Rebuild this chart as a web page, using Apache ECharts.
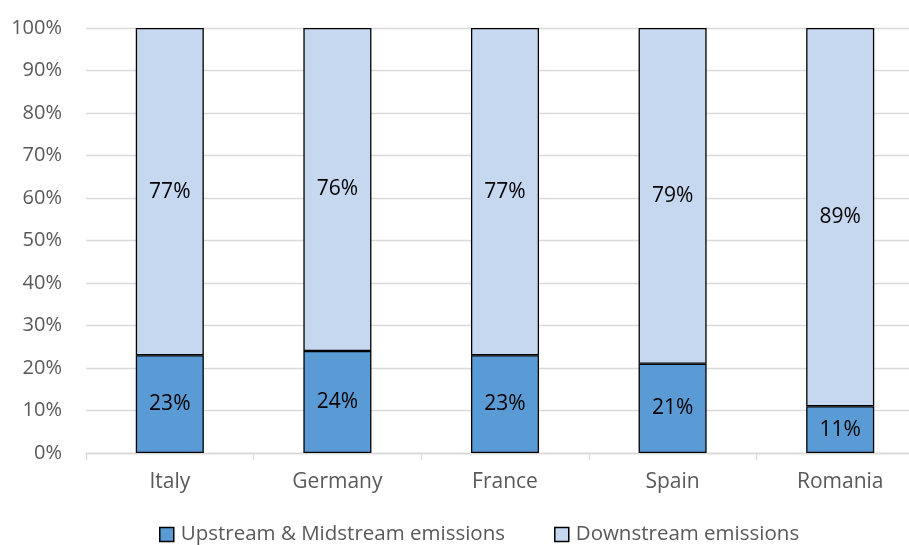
<!DOCTYPE html>
<html>
<head>
<meta charset="utf-8">
<script src="https://cdn.jsdelivr.net/npm/echarts@6/dist/echarts.min.js"></script>
<style>
  html, body { margin: 0; padding: 0; background: #fff; overflow: hidden; }
  #frame { width: 909px; height: 545px; overflow: hidden; }
  /* the category band runs a little past the right edge of the frame */
  #chart { width: 924px; height: 545px; }
</style>
</head>
<body>
<div id="frame"><div id="chart"></div></div>
<script>
// Share of emissions by stage, per country (percent)
const countries = ['Italy', 'Germany', 'France', 'Spain', 'Romania'];
const upstreamMidstream = [23, 24, 23, 21, 11];
const downstream = [77, 76, 77, 79, 89];
const yTicks = [0, 10, 20, 30, 40, 50, 60, 70, 80, 90, 100];

const FONT = '"Open Sans", Lato, sans-serif';

const chart = echarts.init(document.getElementById('chart'));

function barSeries(name, values, color) {
  return {
    name: name,
    type: 'bar',
    stack: 'total',
    data: values,
    barWidth: '40.6%',
    itemStyle: { color: color, borderColor: '#000', borderWidth: 1.3 },
    label: {
      show: true,
      position: 'inside',
      formatter: p => p.value + '%',
      color: '#000',
      fontFamily: FONT,
      fontSize: 21
    }
  };
}

chart.setOption({
  animation: false,
  grid: { left: 86, top: 28, right: 0, bottom: 92, containLabel: false },
  legend: {
    top: 519,
    left: 154,
    icon: 'rect',
    itemWidth: 14,
    itemHeight: 14,
    itemGap: 49,
    itemStyle: { borderColor: '#000', borderWidth: 1.5 },
    textStyle: { color: '#595959', fontFamily: FONT, fontSize: 20.5, padding: [0, 0, 0, 2] },
    data: ['Upstream & Midstream emissions', 'Downstream emissions']
  },
  xAxis: {
    type: 'category',
    data: countries,
    axisLine: { lineStyle: { color: '#d9d9d9', width: 1.3 } },
    axisTick: { show: true, length: 7, lineStyle: { color: '#d9d9d9', width: 1.3 } },
    axisLabel: { color: '#595959', fontFamily: FONT, fontSize: 21, margin: 19 }
  },
  yAxis: {
    type: 'value',
    min: yTicks[0],
    max: yTicks[yTicks.length - 1],
    interval: 10,
    axisLine: { show: false },
    axisTick: { show: false },
    splitLine: { lineStyle: { color: '#d9d9d9', width: 1.3 } },
    axisLabel: { color: '#595959', fontFamily: FONT, fontSize: 20, margin: 24, formatter: v => v + '%' }
  },
  series: [
    barSeries('Upstream & Midstream emissions', upstreamMidstream, '#5b9bd5'),
    barSeries('Downstream emissions', downstream, '#c6d8f0')
  ]
});
</script>
</body>
</html>
